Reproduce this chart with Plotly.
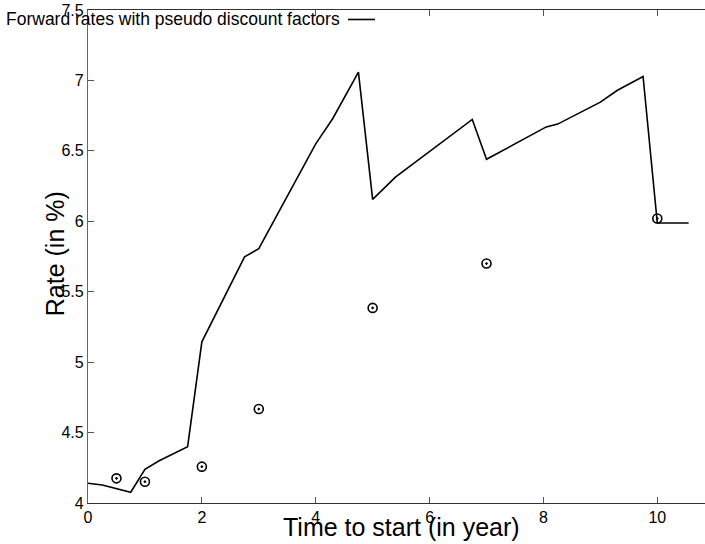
import plotly.graph_objects as go

# Forward rate curve (time to start in years, rate in %)
line_x = [0, 0.25, 0.75, 1.0, 1.25, 1.75, 2.0, 2.75, 3.0, 4.0, 4.3, 4.75,
          5.0, 5.4, 6.75, 7.0, 8.05, 8.25, 9.0, 9.3, 9.75, 10.0, 10.55]
line_y = [4.14, 4.128, 4.076, 4.239, 4.30, 4.40, 5.144, 5.747, 5.806, 6.55,
          6.73, 7.059, 6.156, 6.314, 6.723, 6.44, 6.67, 6.69, 6.846, 6.93,
          7.028, 5.988, 5.988]

# Market points
pts_x = [0.5, 1, 2, 3, 5, 7, 10]
pts_y = [4.175, 4.151, 4.258, 4.667, 5.385, 5.70, 6.02]

x_ticks = [0, 2, 4, 6, 8, 10]
y_ticks = [4, 4.5, 5, 5.5, 6, 6.5, 7, 7.5]

legend_label = "Forward rates with pseudo discount factors"
x_title = "Time to start (in year)"
y_title = "Rate (in %)"

# the plot area runs past the right edge of the 705px window, as in the reference
W, H = 708, 544
L, T, R, B = 88, 9.5, 0, H - 503
PW, PH = W - L - R, H - T - B
X_MAX = PW / 56.93


def px(xp):  # page x -> paper x
    return (xp - L) / PW


def py(yp):  # page y -> paper y
    return 1 - (yp - T) / PH


fig = go.Figure()
fig.add_trace(go.Scatter(x=line_x, y=line_y, mode="lines",
                         line=dict(color="black", width=1.6),
                         name=legend_label, showlegend=False))
fig.add_trace(go.Scatter(x=pts_x, y=pts_y, mode="markers",
                         marker=dict(symbol="circle-open-dot", size=9, color="black",
                                     line=dict(color="black", width=1.6)),
                         showlegend=False))

font = "Liberation Sans, Arial, Helvetica, sans-serif"

fig.update_layout(
    width=W, height=H,
    margin=dict(l=L, r=R, t=T, b=B, pad=0, autoexpand=False),
    paper_bgcolor="white", plot_bgcolor="white",
    font=dict(family=font, size=16, color="black"),
    xaxis=dict(range=[0, X_MAX], tickvals=x_ticks, ticks="inside", ticklen=6,
               tickcolor="#555", showline=True, linecolor="#333", linewidth=1.2,
               mirror="ticks", showgrid=False, zeroline=False, automargin=False,
               ticklabeloverflow="allow", tickfont=dict(size=16)),
    yaxis=dict(range=[4, 7.5], tickvals=y_ticks, ticks="inside", ticklen=6,
               tickcolor="#555", showline=True, linecolor="#666", linewidth=1.2,
               mirror=False, showgrid=False, zeroline=False, automargin=False,
               ticklabeloverflow="allow", tickfont=dict(size=16)),
    annotations=[
        dict(text=legend_label, xref="paper", yref="paper",
             x=px(5), y=py(19), xanchor="left", yanchor="middle",
             showarrow=False, font=dict(size=17.5), borderpad=0),
        dict(text=x_title, xref="paper", yref="paper",
             x=px(401), y=py(527), xanchor="center", yanchor="middle",
             showarrow=False, font=dict(size=25)),
        dict(text=y_title, xref="paper", yref="paper", textangle=-90,
             x=px(55), y=py(254), xanchor="center", yanchor="middle",
             showarrow=False, font=dict(size=25)),
    ],
)

# legend sample line, next to the label
fig.add_shape(type="line", xref="paper", yref="paper",
              x0=px(348), x1=px(375), y0=py(19), y1=py(19),
              line=dict(color="black", width=1.6))

fig.write_html("out.html", config={"displayModeBar": False},
               post_script="document.body.style.margin='0px';document.body.style.overflow='hidden';")
